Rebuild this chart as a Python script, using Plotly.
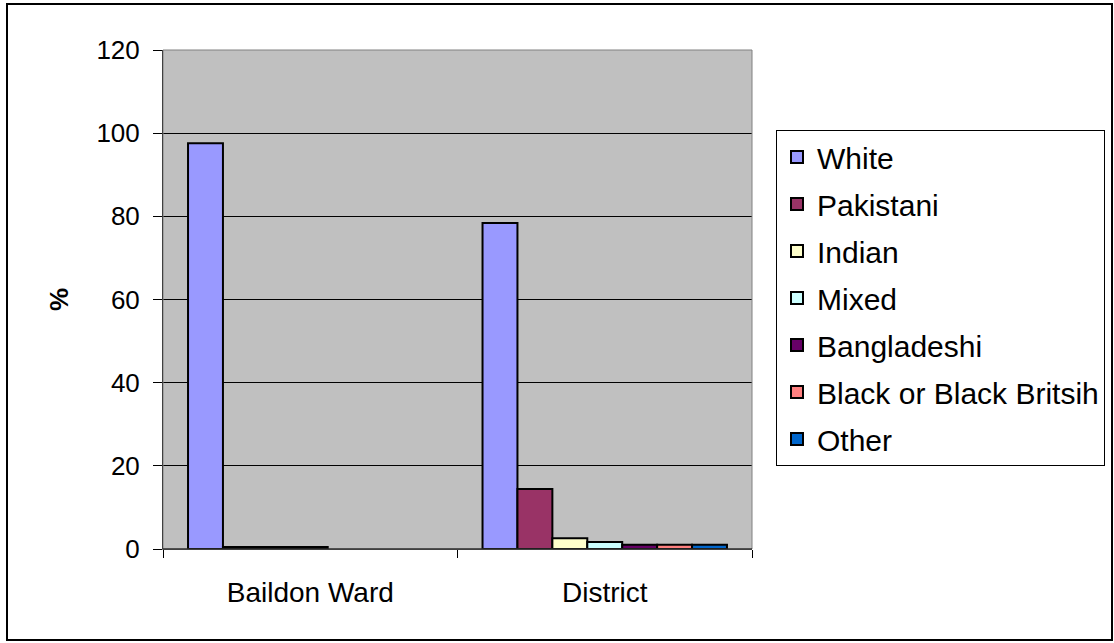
import plotly.graph_objects as go

categories = ["Baildon Ward", "District"]
series_names = ["White", "Pakistani", "Indian", "Mixed", "Bangladeshi", "Black or Black Britsih", "Other"]
white = [97.6, 78.4]
pakistani = [0.5, 14.4]
indian = [0.5, 2.6]
mixed = [0.5, 1.7]
bangladeshi = [None, 1.0]
black = [None, 1.0]
other = [None, 1.0]
series_values = [white, pakistani, indian, mixed, bangladeshi, black, other]
colors = ["#9999FF", "#993366", "#FFFFCC", "#CCFFFF", "#660066", "#FF8080", "#0066CC"]
y_ticks = [0, 20, 40, 60, 80, 100, 120]

W, H = 1114, 643
ml, mr, mt, mb = 163, 362, 50, 94

fig = go.Figure()
for i, (name, vals, col) in enumerate(zip(series_names, series_values, colors)):
    fig.add_trace(go.Bar(
        x=categories, y=vals, name=name, legendgroup=name,
        marker=dict(color=col, line=dict(color="black", width=2)),
    ))

pw = W - ml - mr
ph = H - mt - mb
fig.update_layout(
    width=W, height=H,
    margin=dict(l=ml, r=mr, t=mt, b=mb, autoexpand=False),
    barmode="group", bargap=0.17, bargroupgap=0,
    paper_bgcolor="white", plot_bgcolor="#C0C0C0",
    font=dict(family="Liberation Sans, Arial", size=26, color="black"),
    showlegend=True,
    legend=dict(
        x=(776 - ml) / pw, y=(H - mb - 130) / ph,
        xanchor="left", yanchor="top",
        bordercolor="black", borderwidth=1, bgcolor="white",
        font=dict(size=30), traceorder="grouped", tracegroupgap=5,
    ),
    xaxis=dict(
        showline=True, linecolor="#808080", linewidth=1,
        ticks="outside", tickson="boundaries", ticklen=8, tickcolor="black",
        showgrid=False, tickfont=dict(size=28), mirror=False,
        ticklabelstandoff=18, automargin=False,
    ),
    yaxis=dict(
        range=[0, 120], tickvals=y_ticks, showgrid=True, gridcolor="black", gridwidth=1,
        showline=True, linecolor="black", linewidth=1, ticks="outside", ticklen=9,
        tickcolor="black", tickfont=dict(size=26), zeroline=False,
        ticklabelstandoff=8, automargin=False,
        title=dict(text="<b>%</b>", font=dict(size=26), standoff=20),
    ),
    shapes=[
        dict(type="rect", xref="paper", yref="paper", x0=0, x1=1, y0=0, y1=1,
             line=dict(color="#808080", width=1), layer="above"),
        dict(type="line", xref="paper", yref="paper", x0=0, x1=1, y0=0, y1=0,
             line=dict(color="black", width=1), layer="above"),
        dict(type="rect", xref="paper", yref="paper",
             x0=(7 - ml) / pw, x1=(1112 - ml) / pw,
             y0=(H - mb - 640) / ph, y1=(H - mb - 4) / ph,
             line=dict(color="black", width=2), layer="below"),
    ],
)

fig.write_html("out.html", config={"displayModeBar": False},
               post_script="document.body.style.margin='0px';document.body.style.overflow='hidden';")
